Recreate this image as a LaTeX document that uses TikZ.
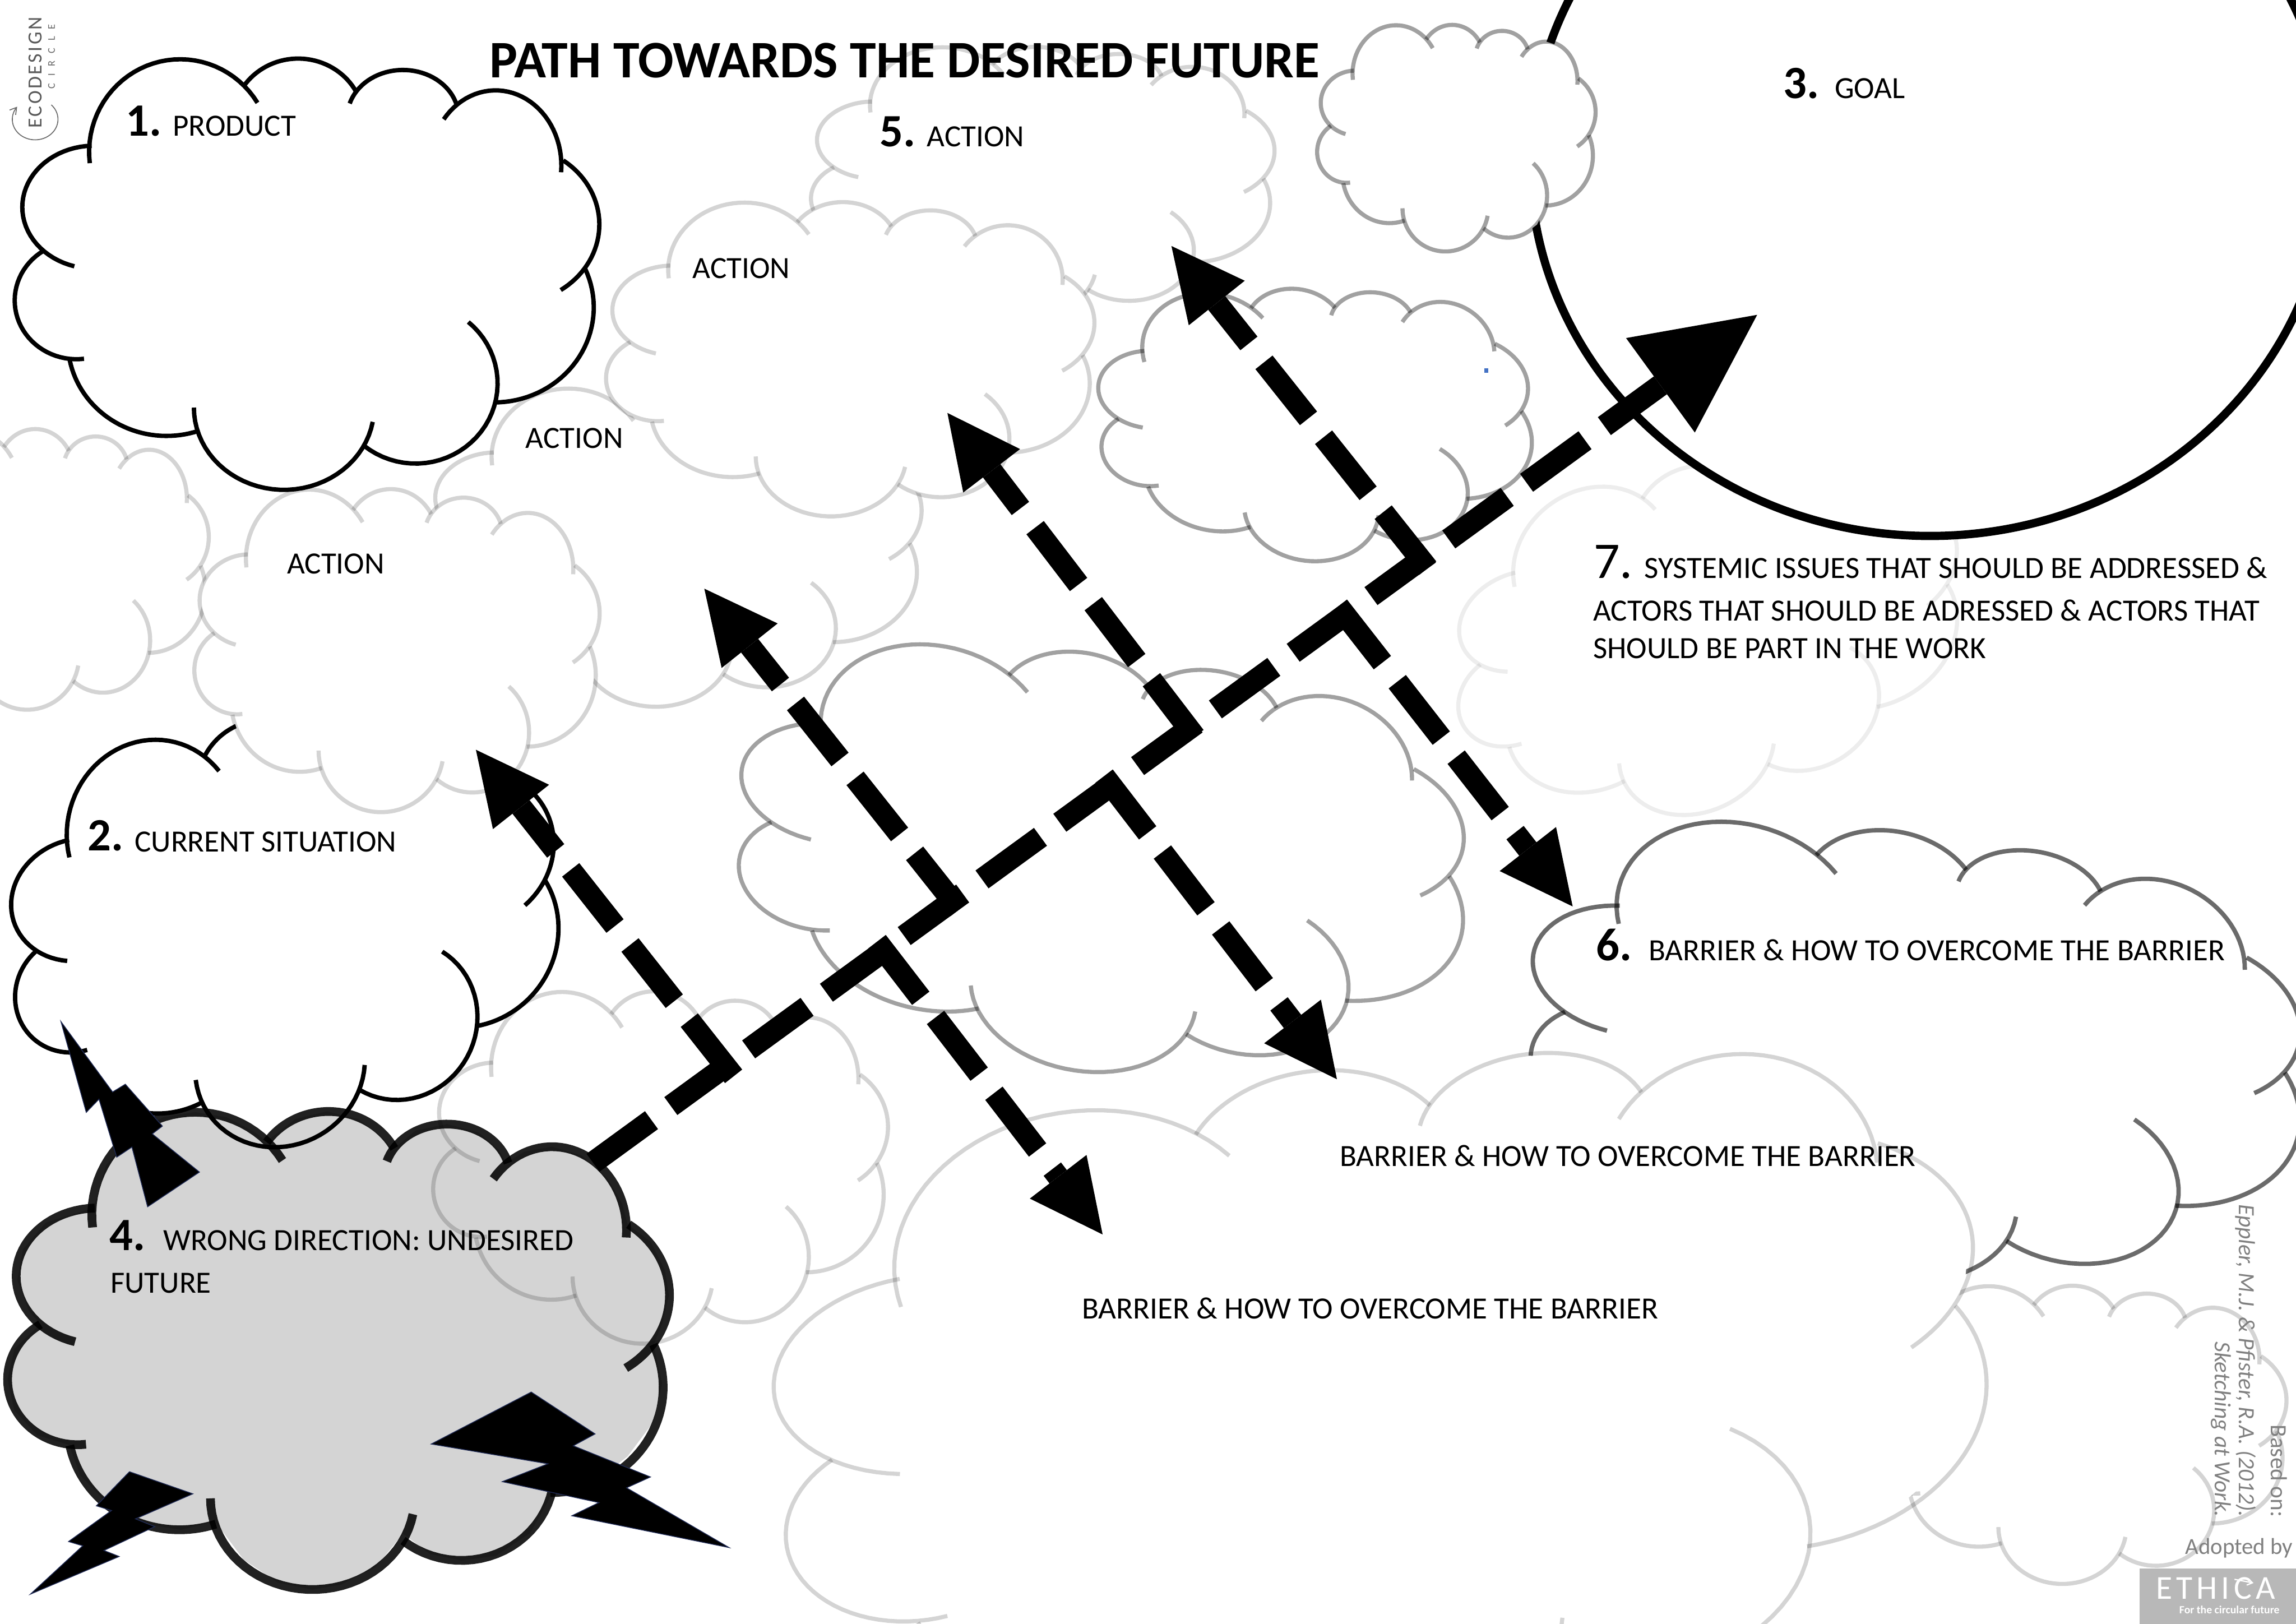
\documentclass[tikz,border=0pt]{standalone}
\usepackage{fontspec}
\usetikzlibrary{arrows.meta}
\setmainfont{Carlito}
\newfontfamily\logoA[LetterSpace=10]{Carlito}
\newfontfamily\logoB[LetterSpace=70]{Carlito}
\newfontfamily\logoC[LetterSpace=12]{Carlito}
\definecolor{bolt}{HTML}{1F2A55}
\definecolor{dotblue}{HTML}{4472C4}
\tikzset{
  lightline/.style={draw=black,draw opacity=.17},
  paleline/.style={draw=black,draw opacity=.07},
  midline/.style={draw=black,draw opacity=.37},
  darkline/.style={draw=black,draw opacity=.58},
  blackline/.style={draw=black},
  badline/.style={draw=black,draw opacity=.87},
  lbl/.style={anchor=base west,inner sep=0pt,outer sep=0pt,font=\fontsize{12}{14}\selectfont},
  num/.style={anchor=base west,inner sep=0pt,outer sep=0pt,font=\fontsize{18}{20}\selectfont\bfseries},
  credit/.style={anchor=base east,rotate=-90,inner sep=0pt,outer sep=0pt,text=black!50,font=\fontsize{9}{10}\selectfont\itshape},
  flowmain/.style={draw=black,line width=8.6pt,dash pattern=on 28.1pt off 9.3pt,
     -{Triangle[length=46.5pt,width=45.4pt,line width=0pt]}},
  flowside/.style={draw=black,line width=8.5pt,dash pattern=on 27.8pt off 9.4pt,
     -{Triangle[length=28.3pt,width=27.8pt,line width=0pt]}},
  boltshape/.style={fill=black,draw=bolt,line width=.3pt,line join=miter},
}
\newcommand\lobe[6]{\draw plot[domain=#5:#6,samples=36,variable=\t] ({#1+#2*cos(\t)},{(#3)-(#4)*sin(\t)});}
% one cloud: origin a,b; unit-square images (p,r) of the width and (q,t) of the height; fill style, line style, line width
\newcommand\cloudshape[9]{%
  \pgfmathsetmacro\cma{(#3)/1160}\pgfmathsetmacro\cmb{-(#5)/1160}%
  \pgfmathsetmacro\cmc{-(#4)/1250}\pgfmathsetmacro\cmd{(#6)/1250}%
  \begin{scope}[cm={\cma,\cmb,\cmc,\cmd,(#1,#2)},shift={(-25,-170)}]
    \path[#7] (178,422)--(200,310)--(250,225)--(300,185)--(355,172)--(410,185)--(460,225)--(480,248)--(530,190)--(585,170)--(640,190)--(680,235)--(700,270)--(740,220)--(795,203)--(850,225)--(885,270)--(898,305)--(930,275)--(978,262)--(1030,285)--(1075,345)--(1100,410)--(1110,465)--(1150,510)--(1175,585)--(1182,650)--(1170,725)--(1155,780)--(1170,880)--(1155,980)--(1110,1070)--(1050,1140)--(977,1165)--(970,1190)--(940,1270)--(880,1330)--(820,1342)--(765,1325)--(718,1272)--(670,1360)--(610,1405)--(560,1418)--(500,1400)--(440,1340)--(390,1240)--(330,1262)--(260,1245)--(200,1190)--(155,1120)--(135,1040)--(80,1015)--(40,950)--(28,870)--(40,790)--(85,725)--(65,690)--(45,610)--(55,530)--(95,460)--cycle;
    \begin{scope}[#8,line width=#9]
    \lobe{355}{180}{440}{268}{187}{32}
    \lobe{588}{130}{352}{182}{146}{28}
    \lobe{795}{110}{340}{137}{163}{15}
    \lobe{978}{130}{480}{218}{142}{-5}
    \lobe{1010}{173}{650}{229}{54}{-56}
    \lobe{975}{197}{890}{275}{24}{-90}
    \lobe{820}{162}{1110}{232}{50}{-129}
    \lobe{560}{178}{1180}{238}{-10}{-180}
    \lobe{328}{195}{990}{272}{-71}{-169}
    \lobe{150}{122}{870}{170}{-83}{-238}
    \lobe{185}{142}{600}{178}{-106}{-268}
    \end{scope}
  \end{scope}}
\begin{document}
\begin{tikzpicture}[x=0.2mm,y=-0.2mm]
\useasboundingbox (0,0) rectangle (1568,1108.7);
\fill[white] (0,0) rectangle (1568,1108.7);
\clip (0,0) rectangle (1568,1108.7);
% background clouds, back to front
\cloudshape{-88}{293}{231}{0}{0}{192}{fill=white}{lightline}{1.6pt}
\cloudshape{553}{32}{318}{0}{0}{185}{fill=white}{lightline}{1.6pt}
\cloudshape{292}{265}{338}{0}{0}{218}{fill=white}{lightline}{1.6pt}
\cloudshape{295}{677}{312}{0}{0}{241}{fill=white}{lightline}{1.6pt}
\cloudshape{-10}{524}{375}{35}{-65}{289}{fill=white}{blackline}{1.7pt}
\cloudshape{132}{334}{278}{0}{0}{221}{fill=white}{lightline}{1.6pt}
\cloudshape{413}{138}{335}{0}{0}{215}{fill=white}{lightline}{1.6pt}
\cloudshape{9}{40}{401}{0}{0}{295}{fill=white}{blackline}{1.7pt}
\cloudshape{491}{432}{501}{22}{27}{288}{fill=white}{midline}{1.6pt}
\cloudshape{736}{204}{297}{28}{-14}{186}{fill=white}{midline}{1.6pt}
\cloudshape{985}{353}{345}{18}{-70}{235}{fill=white}{paleline}{1.6pt}
% goal
\draw[fill=white,draw=black,line width=3.2pt] (1318,110) ellipse [x radius=273,y radius=256];
\cloudshape{899}{17}{191}{0}{0}{155}{fill=white}{midline}{1.6pt}
\cloudshape{1030}{552}{532}{25}{31}{309}{fill=white}{darkline}{1.7pt}
\cloudshape{1277}{878}{285}{0}{0}{204}{fill=white}{lightline}{1.6pt}
\cloudshape{486}{798}{828}{88}{-135}{463}{fill=white}{lightline}{1.6pt}
% undesired future
\cloudshape{4}{759}{454}{0}{0}{327}{fill=black,fill opacity=.17}{badline}{3.4pt}
% lightning
\draw[boltshape] (41.6,697.6)--(76.9,745.7)--(85.6,740.4)--(110.9,769)--(104,774.3)--(136.2,800.4)--(100.8,824.1)--(90.1,783.3)--(79.7,790.2)--(67.6,750.6)--(58.9,759.6)--cycle;
\draw[boltshape] (294.5,986.1)--(362.8,950.6)--(406.4,979.2)--(391.5,987.3)--(444.2,1008.6)--(427.9,1016)--(497.9,1056.8)--(390.5,1035.1)--(409,1026.1)--(343,1011.8)--(374.2,999.6)--cycle;
\draw[boltshape] (88.4,1005)--(131.7,1020.1)--(92.5,1037.2)--(105.7,1042.5)--(71,1058.8)--(81.4,1062.9)--(20.8,1088.6)--(56.5,1055.6)--(46.8,1052.7)--(76.2,1031.5)--(65.8,1028.3)--cycle;
% main path
\coordinate (mainS) at (405,794);
\coordinate (mainE) at (1200,215);
\draw[flowmain] (mainS) -- (mainE);
% crossing paths
\coordinate (aS) at (501,735); \coordinate (aE) at (325,512);
\coordinate (bS) at (655,621); \coordinate (bE) at (481,402);
\coordinate (cS) at (599,643); \coordinate (cE) at (753,843);
\coordinate (dS) at (816,503); \coordinate (dE) at (647,282);
\coordinate (eS) at (754,530); \coordinate (eE) at (913,737);
\coordinate (fS) at (975,388); \coordinate (fE) at (800,168);
\coordinate (gS) at (914,414); \coordinate (gE) at (1074,619);
\draw[flowside] (aS) -- (aE);
\draw[flowside] (bS) -- (bE);
\draw[flowside] (cS) -- (cE);
\draw[flowside] (dS) -- (dE);
\draw[flowside] (eS) -- (eE);
\draw[flowside] (fS) -- (fE);
\draw[flowside] (gS) -- (gE);
% small blue speck
\fill[dotblue] (1013.5,251.5) rectangle (1016.5,254.5);
% texts
\node[anchor=base west,inner sep=0pt,font=\fontsize{20.5}{22}\selectfont\bfseries] (title) at (334,53) {PATH TOWARDS THE DESIRED FUTURE};
\node[num] (n1) at (86,93) {1.};
\node[lbl] (t1) at (118,93) {PRODUCT};
\node[num] (n5) at (601,100) {5.};
\node[lbl] (t5) at (633,100) {ACTION};
\node[lbl] (a1) at (473,190) {ACTION};
\node[lbl] (a2) at (359,306) {ACTION};
\node[lbl] (a3) at (196,392) {ACTION};
\node[num] (n2) at (60,581) {2.};
\node[lbl] (t2) at (92,581.5) {CURRENT SITUATION};
\node[num] (n3) at (1218,67) {3.};
\node[lbl] (t3) at (1253,67) {GOAL};
\node[num] (n4) at (75,854) {4.};
\node[lbl] (t4) at (111.5,854) {WRONG DIRECTION: UNDESIRED};
\node[lbl] (t4b) at (75.5,883) {FUTURE};
\node[num] (n6) at (1090,656) {6.};
\node[lbl] (t6) at (1126,656) {BARRIER \& HOW TO OVERCOME THE BARRIER};
\node[lbl] (b1) at (915,796.5) {BARRIER \& HOW TO OVERCOME THE BARRIER};
\node[lbl] (b2) at (739,900.5) {BARRIER \& HOW TO OVERCOME THE BARRIER};
\node[anchor=base west,inner sep=0pt,font=\fontsize{20}{22}\selectfont] (n7) at (1088,395) {7.};
\node[lbl] (t7) at (1123,395) {SYSTEMIC ISSUES THAT SHOULD BE ADDRESSED \&};
\node[lbl] (t7b) at (1088,424) {ACTORS THAT SHOULD BE ADRESSED \& ACTORS THAT};
\node[lbl] (t7c) at (1088,449.5) {SHOULD BE PART IN THE WORK};
% credits
\node[credit,font=\fontsize{9}{10}\selectfont] (cr1) at (1551,1036) {Based on:};
\node[credit] (cr2) at (1529,1036) {Eppler, M.J. \& Pfister, R.A. (2012).};
\node[credit] (cr3) at (1512.5,1036) {Sketching at Work.};
\node[anchor=base west,inner sep=0pt,text=black!50,font=\fontsize{8.9}{10}\selectfont] (adopt) at (1492,1061.5) {Adopted by};
\fill[black!28] (1461,1071) rectangle (1568,1109);
\node[anchor=base west,inner sep=0pt,text=white,font=\fontsize{13}{15}\logoC] (eth) at (1472,1092) {ETHICA};
\node[anchor=base west,inner sep=0pt,text=white,font=\fontsize{4.3}{6}\selectfont\bfseries] (eth2) at (1488,1102) {For the circular future};
\coordinate (ethArrowA) at (1526,1078.5);
\coordinate (ethArrowB) at (1539,1081);
\draw[white,line width=.5pt,-{Straight Barb[length=2pt,width=2.6pt]}] (ethArrowA) -- (ethArrowB);
% logo
\node[anchor=base west,rotate=90,inner sep=0pt,text=black!65,font=\fontsize{7.8}{9}\logoA] (logo1) at (28.4,88) {ECODESIGN};
\node[anchor=base west,rotate=90,inner sep=0pt,text=black!60,font=\fontsize{4}{5}\logoB] (logo2) at (37.5,61) {CIRCLE};
\draw[black!60,line width=.35pt,-{Straight Barb[length=2.5pt,width=3pt]}] plot[domain=45:-218,samples=50,variable=\t] ({24+15.6*cos(\t)},{81.5-14*sin(\t)});
\end{tikzpicture}
\end{document}
